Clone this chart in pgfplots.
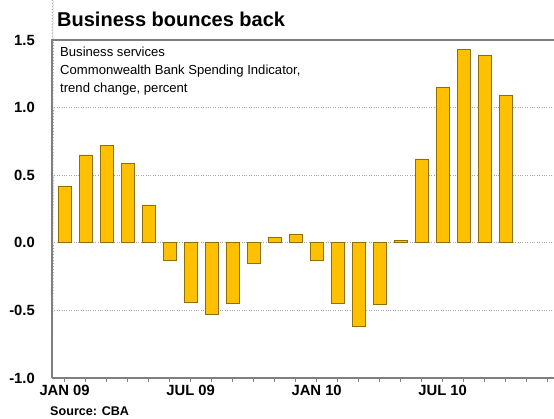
\documentclass[border=0pt]{standalone}
\usepackage{pgfplots}
\pgfplotsset{compat=1.18}
\usepackage{pgfplotstable}
\usepackage{fontspec}
\setmainfont{Liberation Sans}
\definecolor{barfill}{HTML}{FFC000}
\definecolor{baredge}{HTML}{8F6F00}
\definecolor{axisgray}{HTML}{7F7F7F}
\definecolor{gridgray}{HTML}{A6A6A6}

\pgfplotstableread{
x y
0 0.42
1 0.65
2 0.72
3 0.59
4 0.28
5 -0.13
6 -0.44
7 -0.53
8 -0.45
9 -0.15
10 0.04
11 0.06
12 -0.13
13 -0.45
14 -0.62
15 -0.455
16 0.02
17 0.62
18 1.15
19 1.43
20 1.385
21 1.09
}\datatable

\begin{document}
\begin{tikzpicture}
\useasboundingbox (-52pt,-40pt) rectangle (502pt,378pt);
\begin{axis}[
  at={(0,0)}, anchor=south west,
  scale only axis, width=502pt, height=338pt,
  xmin=-0.6, xmax=23.3, ymin=-1, ymax=1.5,
  axis line style={draw=none},
  clip=false,
  xtick={0,...,23},
  xticklabels={JAN 09,,,,,,JUL 09,,,,,,JAN 10,,,,,,JUL 10,,,,,},
  xtick pos=bottom, ytick pos=left,
  tick align=inside, major tick length=4pt,
  xtick style={axisgray, line width=1pt},
  ytick={-1,-0.5,0,0.5,1,1.5},
  yticklabels={-1.0,-0.5,0.0,0.5,1.0,1.5},
  ytick style={draw=none},
  ticklabel style={font=\fontsize{14.8}{16}\selectfont\bfseries, inner sep=0pt},
  xticklabel style={anchor=north, yshift=-3pt},
  yticklabel style={anchor=east, xshift=-17pt},
  ymajorgrids,
  grid style={gridgray, dotted, line width=1pt},
  ybar, bar width=13pt,
]
\pgfplotsinvokeforeach{-1,-0.5,0,0.5,1,1.5}{
  \draw[gridgray, dotted, line width=1pt] (axis cs:-0.6,#1) -- ++(-11pt,0);
}
\addplot[ybar, fill=barfill, draw=baredge, line width=0.8pt] table[x=x,y=y]{\datatable};
\draw[axisgray, line width=1.5pt] (rel axis cs:0,0) -- (rel axis cs:1,0);
\draw[axisgray, line width=2pt] (rel axis cs:0,0) -- (rel axis cs:0,1) -- (rel axis cs:1,1);
\end{axis}
\node[anchor=base west, inner sep=0pt, font=\fontsize{20}{22}\selectfont\bfseries] at (5pt,351pt) {Business bounces back};
\node[anchor=base west, inner sep=0pt, font=\fontsize{13.1}{15}\selectfont] at (8pt,321pt) {Business services};
\node[anchor=base west, inner sep=0pt, font=\fontsize{13.1}{15}\selectfont] at (8pt,303pt) {Commonwealth Bank Spending Indicator,};
\node[anchor=base west, inner sep=0pt, font=\fontsize{13.1}{15}\selectfont] at (8pt,285pt) {trend change, percent};
\node[anchor=base west, inner sep=0pt, font=\fontsize{12.6}{14}\selectfont\bfseries] at (-2pt,-37pt) {Source: CBA};
\end{tikzpicture}
\end{document}
